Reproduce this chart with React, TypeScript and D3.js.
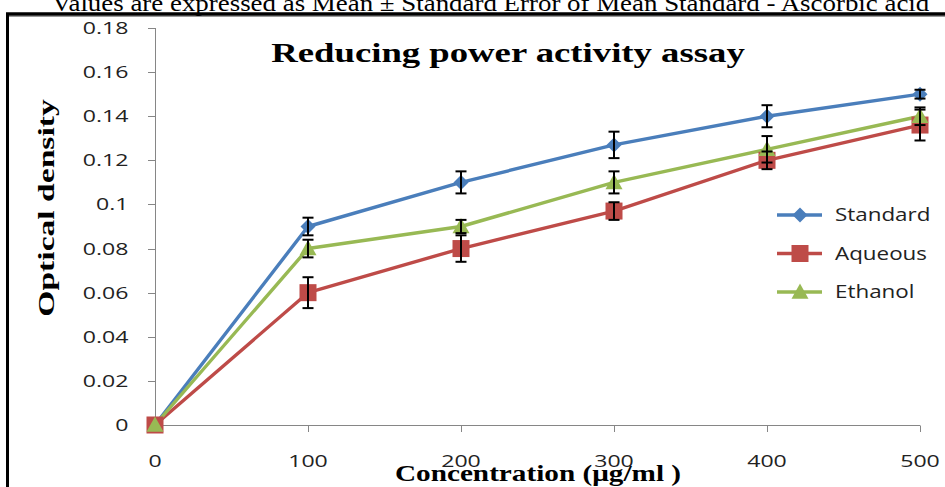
import React from "react";
import * as d3 from "d3";

const concentrations = [0, 100, 200, 300, 400, 500];
const standardValues = [0, 0.09, 0.11, 0.127, 0.14, 0.15];
const standardErrors = [0, 0.004, 0.005, 0.006, 0.005, 0.002];
const aqueousValues = [0, 0.06, 0.08, 0.097, 0.12, 0.136];
const aqueousErrors = [0, 0.007, 0.006, 0.004, 0.004, 0.007];
const ethanolValues = [0, 0.08, 0.09, 0.11, 0.125, 0.14];
const ethanolErrors = [0, 0.004, 0.003, 0.005, 0.006, 0.004];
const yTicks = [0, 0.02, 0.04, 0.06, 0.08, 0.1, 0.12, 0.14, 0.16, 0.18];
const yTickLabels = ["0", "0.02", "0.04", "0.06", "0.08", "0.1", "0.12", "0.14", "0.16", "0.18"];
const seriesNames = ["Standard", "Aqueous", "Ethanol"];

const W = 945;
const H = 487;

export default function App() {
  const x = d3.scaleLinear().domain([0, 500]).range([155, 920]);
  const y = d3.scaleLinear().domain([0, 0.18]).range([425, 28]);

  const series = [
    { name: seriesNames[0], values: standardValues, errors: standardErrors, color: "#4A7EBB", marker: "diamond" },
    { name: seriesNames[1], values: aqueousValues, errors: aqueousErrors, color: "#BE4B48", marker: "square" },
    { name: seriesNames[2], values: ethanolValues, errors: ethanolErrors, color: "#98B954", marker: "triangle" },
  ];

  const line = d3
    .line<number>()
    .x((_, i) => x(concentrations[i]))
    .y((d) => y(d));

  const marker = (type: string, cx: number, cy: number, color: string, key: string) => {
    if (type === "diamond") {
      const s = 7.5;
      return <path key={key} d={`M${cx},${cy - s}L${cx + s},${cy}L${cx},${cy + s}L${cx - s},${cy}Z`} fill={color} />;
    }
    if (type === "square") {
      const s = 8.5;
      return <rect key={key} x={cx - s} y={cy - s} width={2 * s} height={2 * s} fill={color} />;
    }
    const s = 8.5;
    return <path key={key} d={`M${cx},${cy - s}L${cx + s},${cy + s * 0.8}L${cx - s},${cy + s * 0.8}Z`} fill={color} />;
  };

  const tickFont = "'Open Sans', 'DejaVu Sans', sans-serif";
  const serif = "'Liberation Serif', 'Times New Roman', serif";

  return (
    <svg width={W} height={H} style={{ display: "block", position: "absolute", left: 0, top: 0 }}>
      <rect x={0} y={0} width={W} height={H} fill="#fff" />
      <text transform="translate(52,11) scale(1.17,1)" textAnchor="start" fontFamily={serif} fontSize={23} fill="#000">
        Values are expressed as Mean ± Standard Error of Mean Standard - Ascorbic acid
      </text>
      {/* frame */}
      <line x1={6} y1={14} x2={W} y2={14} stroke="#000" strokeWidth={3.5} />
      <line x1={6} y1={16.5} x2={W} y2={16.5} stroke="#999" strokeWidth={1} />
      <line x1={7.5} y1={13} x2={7.5} y2={H} stroke="#000" strokeWidth={3} />

      {/* y axis */}
      <line x1={155.5} y1={y(0.18)} x2={155.5} y2={y(0)} stroke="#868686" strokeWidth={1} />
      {yTicks.map((t, i) => (
        <g key={"yt" + i}>
          <line x1={148} x2={155.5} y1={Math.round(y(t)) + 0.5} y2={Math.round(y(t)) + 0.5} stroke="#868686" />
          <text
            transform={`translate(128.5,${y(t)}) scale(1.4,1)`}
            dy="0.36em"
            textAnchor="end"
            fontFamily={tickFont}
            fontSize={16.5}
            fill="#222"
          >
            {yTickLabels[i]}
          </text>
        </g>
      ))}
      {/* x axis */}
      <line x1={155} y1={425.5} x2={920} y2={425.5} stroke="#868686" strokeWidth={1} />
      {concentrations.map((c, i) => (
        <g key={"xt" + i}>
          {i > 0 && (
            <line x1={Math.round(x(c)) + 0.5} x2={Math.round(x(c)) + 0.5} y1={425.5} y2={432} stroke="#868686" />
          )}
          <text
            transform={`translate(${x(c)},461) scale(1.4,1)`}
            dy="0.36em"
            textAnchor="middle"
            fontFamily={tickFont}
            fontSize={16.5}
            fill="#222"
          >
            {c}
          </text>
        </g>
      ))}

      {/* lines */}
      {series.map((s) => (
        <path key={"l" + s.name} d={line(s.values) || ""} fill="none" stroke={s.color} strokeWidth={3.4} strokeLinejoin="round" />
      ))}
      {/* markers */}
      {series.map((s) =>
        s.values.map((v, i) => marker(s.marker, x(concentrations[i]), y(v), s.color, s.name + "m" + i))
      )}
      {/* error bars */}
      {series.map((s) =>
        s.values.map((v, i) => {
          if (i === 0) return null;
          const cx = x(concentrations[i]);
          const t = y(v + s.errors[i]);
          const b = y(v - s.errors[i]);
          return (
            <g key={s.name + "e" + i} stroke="#000" strokeWidth={2}>
              <line x1={cx} x2={cx} y1={t} y2={b} />
              <line x1={cx - 5.5} x2={cx + 5.5} y1={t} y2={t} />
              <line x1={cx - 5.5} x2={cx + 5.5} y1={b} y2={b} />
            </g>
          );
        })
      )}

      {/* titles */}
      <text
        transform="translate(508,62) scale(1.36,1)"
        textAnchor="middle"
        fontFamily={serif}
        fontWeight="bold"
        fontSize={27}
        fill="#000"
      >
        Reducing power activity assay
      </text>
      <text
        transform="translate(538,481) scale(1.3,1)"
        textAnchor="middle"
        fontFamily={serif}
        fontWeight="bold"
        fontSize={22.5}
        fill="#000"
      >
        Concentration (μg/ml )
      </text>
      <text
        transform={`translate(54,208) rotate(-90) scale(1.4,1)`}
        textAnchor="middle"
        fontFamily={serif}
        fontWeight="bold"
        fontSize={24}
        fill="#000"
      >
        Optical density
      </text>

      {/* legend */}
      {series.map((s, i) => {
        const ly = 215 + i * 38.5;
        return (
          <g key={"lg" + s.name}>
            <line x1={777} x2={822} y1={ly} y2={ly} stroke={s.color} strokeWidth={3.4} />
            {marker(s.marker, 800, ly, s.color, "lgm" + i)}
            <text
              transform={`translate(835,${ly}) scale(1.28,1)`}
              dy="0.36em"
              fontFamily={tickFont}
              fontSize={17.5}
              fill="#222"
            >
              {s.name}
            </text>
          </g>
        );
      })}
    </svg>
  );
}
